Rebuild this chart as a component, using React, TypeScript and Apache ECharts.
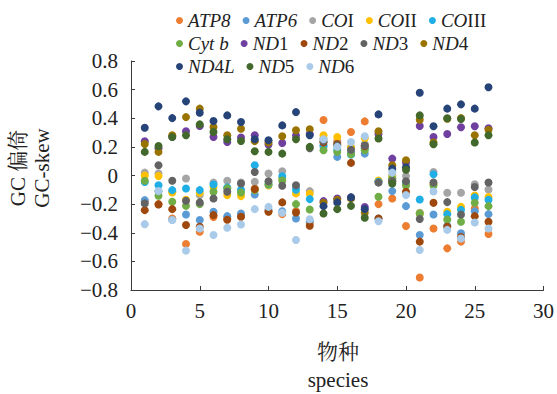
import React, { useEffect, useRef } from "react";
import * as echarts from "echarts";

const species = [1, 2, 3, 4, 5, 6, 7, 8, 9, 10, 11, 12, 13, 14, 15, 16, 17, 18, 19, 20, 21, 22, 23, 24, 25, 26];

const ATP8 = [-0.18, -0.2, -0.3, -0.479, -0.393, -0.29, -0.3, -0.28, -0.09, -0.25, -0.27, -0.25, -0.33, 0.388, 0.24, 0.304, 0.378, -0.2, -0.161, -0.353, -0.713, -0.37, -0.509, -0.462, -0.23, -0.409];
const ATP6 = [-0.172, -0.11, -0.31, -0.272, -0.311, -0.253, -0.284, -0.265, -0.133, -0.24, -0.25, -0.3, -0.32, 0.2, 0.13, 0.16, 0.153, -0.3, -0.109, -0.214, -0.416, -0.272, -0.35, -0.404, -0.25, -0.27];
const COI = [0.02, 0.014, -0.11, -0.021, -0.137, -0.05, -0.037, -0.049, -0.044, 0.014, 0.03, -0.08, -0.109, 0.26, 0.23, 0.2, 0.22, -0.04, 0.0, -0.003, -0.26, 0.025, -0.12, -0.12, -0.061, -0.098];
const COII = [0.0, -0.003, -0.119, -0.17, -0.12, -0.08, -0.137, -0.144, -0.1, -0.07, -0.02, -0.125, -0.128, 0.281, 0.269, 0.195, 0.26, -0.035, -0.01, -0.06, -0.265, -0.06, -0.253, -0.219, -0.14, -0.15];
const COIII = [-0.045, -0.068, -0.102, -0.091, -0.102, -0.063, -0.083, -0.1, 0.072, -0.063, -0.005, -0.1, -0.165, 0.211, 0.18, 0.146, 0.19, -0.044, -0.03, -0.05, -0.168, 0.008, -0.27, -0.24, -0.153, -0.17];
const CytB = [-0.037, -0.142, -0.184, -0.212, -0.2, -0.114, -0.09, -0.119, -0.1, -0.06, -0.035, -0.2, -0.237, 0.176, 0.165, 0.15, 0.176, -0.149, -0.02, -0.07, -0.265, -0.07, -0.307, -0.323, -0.19, -0.214];
const ND1 = [0.239, 0.19, 0.27, 0.309, 0.346, 0.269, 0.234, 0.265, 0.281, 0.216, 0.227, 0.28, 0.29, -0.179, -0.161, -0.153, -0.22, 0.29, 0.118, 0.09, 0.346, 0.269, 0.29, 0.337, 0.344, 0.33];
const ND2 = [-0.242, -0.202, -0.235, -0.346, -0.358, -0.277, -0.309, -0.288, -0.095, -0.253, -0.188, -0.258, -0.351, 0.23, 0.22, 0.088, 0.204, -0.3, -0.04, -0.114, -0.462, -0.191, -0.358, -0.43, -0.284, -0.323];
const ND3 = [-0.195, 0.072, -0.037, -0.177, -0.188, -0.161, -0.114, -0.056, 0.025, -0.04, -0.072, -0.068, 0.19, 0.24, 0.21, 0.18, 0.21, -0.05, -0.04, -0.04, -0.304, -0.049, -0.186, -0.272, -0.08, -0.049];
const ND4 = [0.22, 0.165, 0.281, 0.408, 0.467, 0.339, 0.281, 0.327, 0.24, 0.23, 0.274, 0.316, 0.323, -0.19, -0.17, -0.16, -0.26, 0.309, 0.072, 0.107, 0.39, 0.23, 0.397, 0.401, 0.281, 0.32];
const ND4L = [0.334, 0.483, 0.401, 0.518, 0.439, 0.381, 0.42, 0.374, 0.253, 0.246, 0.35, 0.443, 0.281, -0.214, -0.188, -0.153, -0.235, 0.427, 0.048, 0.058, 0.578, 0.344, 0.467, 0.497, 0.467, 0.617];
const ND5 = [0.165, 0.206, 0.269, 0.281, 0.357, 0.304, 0.253, 0.241, 0.169, 0.165, 0.153, 0.253, 0.2, -0.265, -0.235, -0.212, -0.295, 0.258, -0.056, 0.04, 0.42, 0.218, 0.4, 0.395, 0.23, 0.281];
const ND6 = [-0.34, -0.109, -0.311, -0.525, -0.37, -0.416, -0.365, -0.342, -0.235, -0.219, -0.26, -0.451, -0.306, 0.253, 0.2, 0.234, 0.274, -0.32, 0.02, -0.137, -0.52, -0.112, -0.38, -0.44, -0.328, -0.37];

const geneNames = ["ATP8", "ATP6", "COI", "COII", "COIII", "Cyt b", "ND1", "ND2", "ND3", "ND4", "ND4L", "ND5", "ND6"];
const geneValues = [ATP8, ATP6, COI, COII, COIII, CytB, ND1, ND2, ND3, ND4, ND4L, ND5, ND6];
const geneColors = ["#ED7D31", "#5B9BD5", "#A5A5A5", "#FFC000", "#1FAEE6", "#70AD47", "#7040A0", "#9E480E", "#636363", "#997300", "#264478", "#43682B", "#A9CBE9"];
const legendLabels: Record<string, string> = {
  ATP8: "{i|ATP8}",
  ATP6: "{i|ATP6}",
  COI: "{i|CO}{n|I}",
  COII: "{i|CO}{n|II}",
  COIII: "{i|CO}{n|III}",
  "Cyt b": "{i|Cyt b}",
  ND1: "{i|ND}{n|1}",
  ND2: "{i|ND}{n|2}",
  ND3: "{i|ND}{n|3}",
  ND4: "{i|ND}{n|4}",
  ND4L: "{i|ND}{n|4}{i|L}",
  ND5: "{i|ND}{n|5}",
  ND6: "{i|ND}{n|6}",
};

const FONT = "'Times New Roman', 'Liberation Serif', 'Noto Serif CJK SC', 'Noto Sans CJK SC', serif";

export default function App() {
  const ref = useRef<HTMLDivElement>(null);
  useEffect(() => {
    if (!ref.current) return;
    document.body.style.margin = "0";
    const chart = echarts.init(ref.current, null, { renderer: "svg" });
    const legendText = {
      fontFamily: FONT,
      fontSize: 19,
      color: "#222",
      rich: {
        i: { fontFamily: FONT, fontSize: 19, fontStyle: "italic", color: "#222" },
        n: { fontFamily: FONT, fontSize: 19, color: "#222" },
      },
    };
    const mkLegend = (names: string[], top: number) => ({
      data: names,
      left: 176,
      top,
      orient: "horizontal",
      icon: "circle",
      itemWidth: 7,
      itemHeight: 7,
      itemGap: 12,
      padding: 0,
      formatter: (n: string) => legendLabels[n] || n,
      textStyle: legendText,
    });
    chart.setOption({
      animation: false,
      legend: [
        mkLegend(geneNames.slice(0, 5), 11),
        mkLegend(geneNames.slice(5, 10), 34),
        mkLegend(geneNames.slice(10), 57),
      ],
      grid: { left: 131, right: 12, top: 61, bottom: 104, containLabel: false },
      xAxis: {
        type: "value",
        min: 0,
        max: 30,
        interval: 5,
        axisLine: { onZero: false, lineStyle: { color: "#3a3a3a", width: 1 } },
        axisTick: { inside: true, length: 4, lineStyle: { color: "#3a3a3a" } },
        splitLine: { show: false },
        axisLabel: { color: "#222", fontFamily: FONT, fontSize: 21, margin: 10 },
      },
      yAxis: {
        type: "value",
        min: -0.8,
        max: 0.8,
        interval: 0.2,
        axisLine: { show: true, onZero: false, lineStyle: { color: "#3a3a3a", width: 1 } },
        axisTick: { show: true, inside: true, length: 4, lineStyle: { color: "#3a3a3a" } },
        splitLine: { show: false },
        axisLabel: {
          color: "#222",
          fontFamily: FONT,
          fontSize: 21,
          margin: 13,
          formatter: (v: number) => {
            const r = Math.round(v * 10) / 10;
            if (r === 0) return "0";
            return r < 0 ? "\u2212" + Math.abs(r).toFixed(1) : r.toFixed(1);
          },
        },
      },
      graphic: [
        { type: "text", x: 18, y: 168, rotation: Math.PI / 2, style: { text: "GC 偏倚", font: `21px ${FONT}`, fill: "#222", textAlign: "center", textVerticalAlign: "middle" } },
        { type: "text", x: 42, y: 168, rotation: Math.PI / 2, style: { text: "GC-skew", font: `21px ${FONT}`, fill: "#222", textAlign: "center", textVerticalAlign: "middle" } },
        { type: "text", x: 338, y: 352, style: { text: "物种", font: `21px ${FONT}`, fill: "#222", textAlign: "center", textVerticalAlign: "middle" } },
        { type: "text", x: 338, y: 380, style: { text: "species", font: `21px ${FONT}`, fill: "#222", textAlign: "center", textVerticalAlign: "middle" } },
      ],
      series: geneNames.map((name, k) => ({
        name,
        type: "scatter",
        symbol: "circle",
        symbolSize: 8,
        itemStyle: { color: geneColors[k], opacity: 1 },
        data: species.map((s, j) => [s, geneValues[k][j]]),
      })),
    });
    return () => chart.dispose();
  }, []);
  return <div ref={ref} style={{ width: 557, height: 394 }} />;
}
